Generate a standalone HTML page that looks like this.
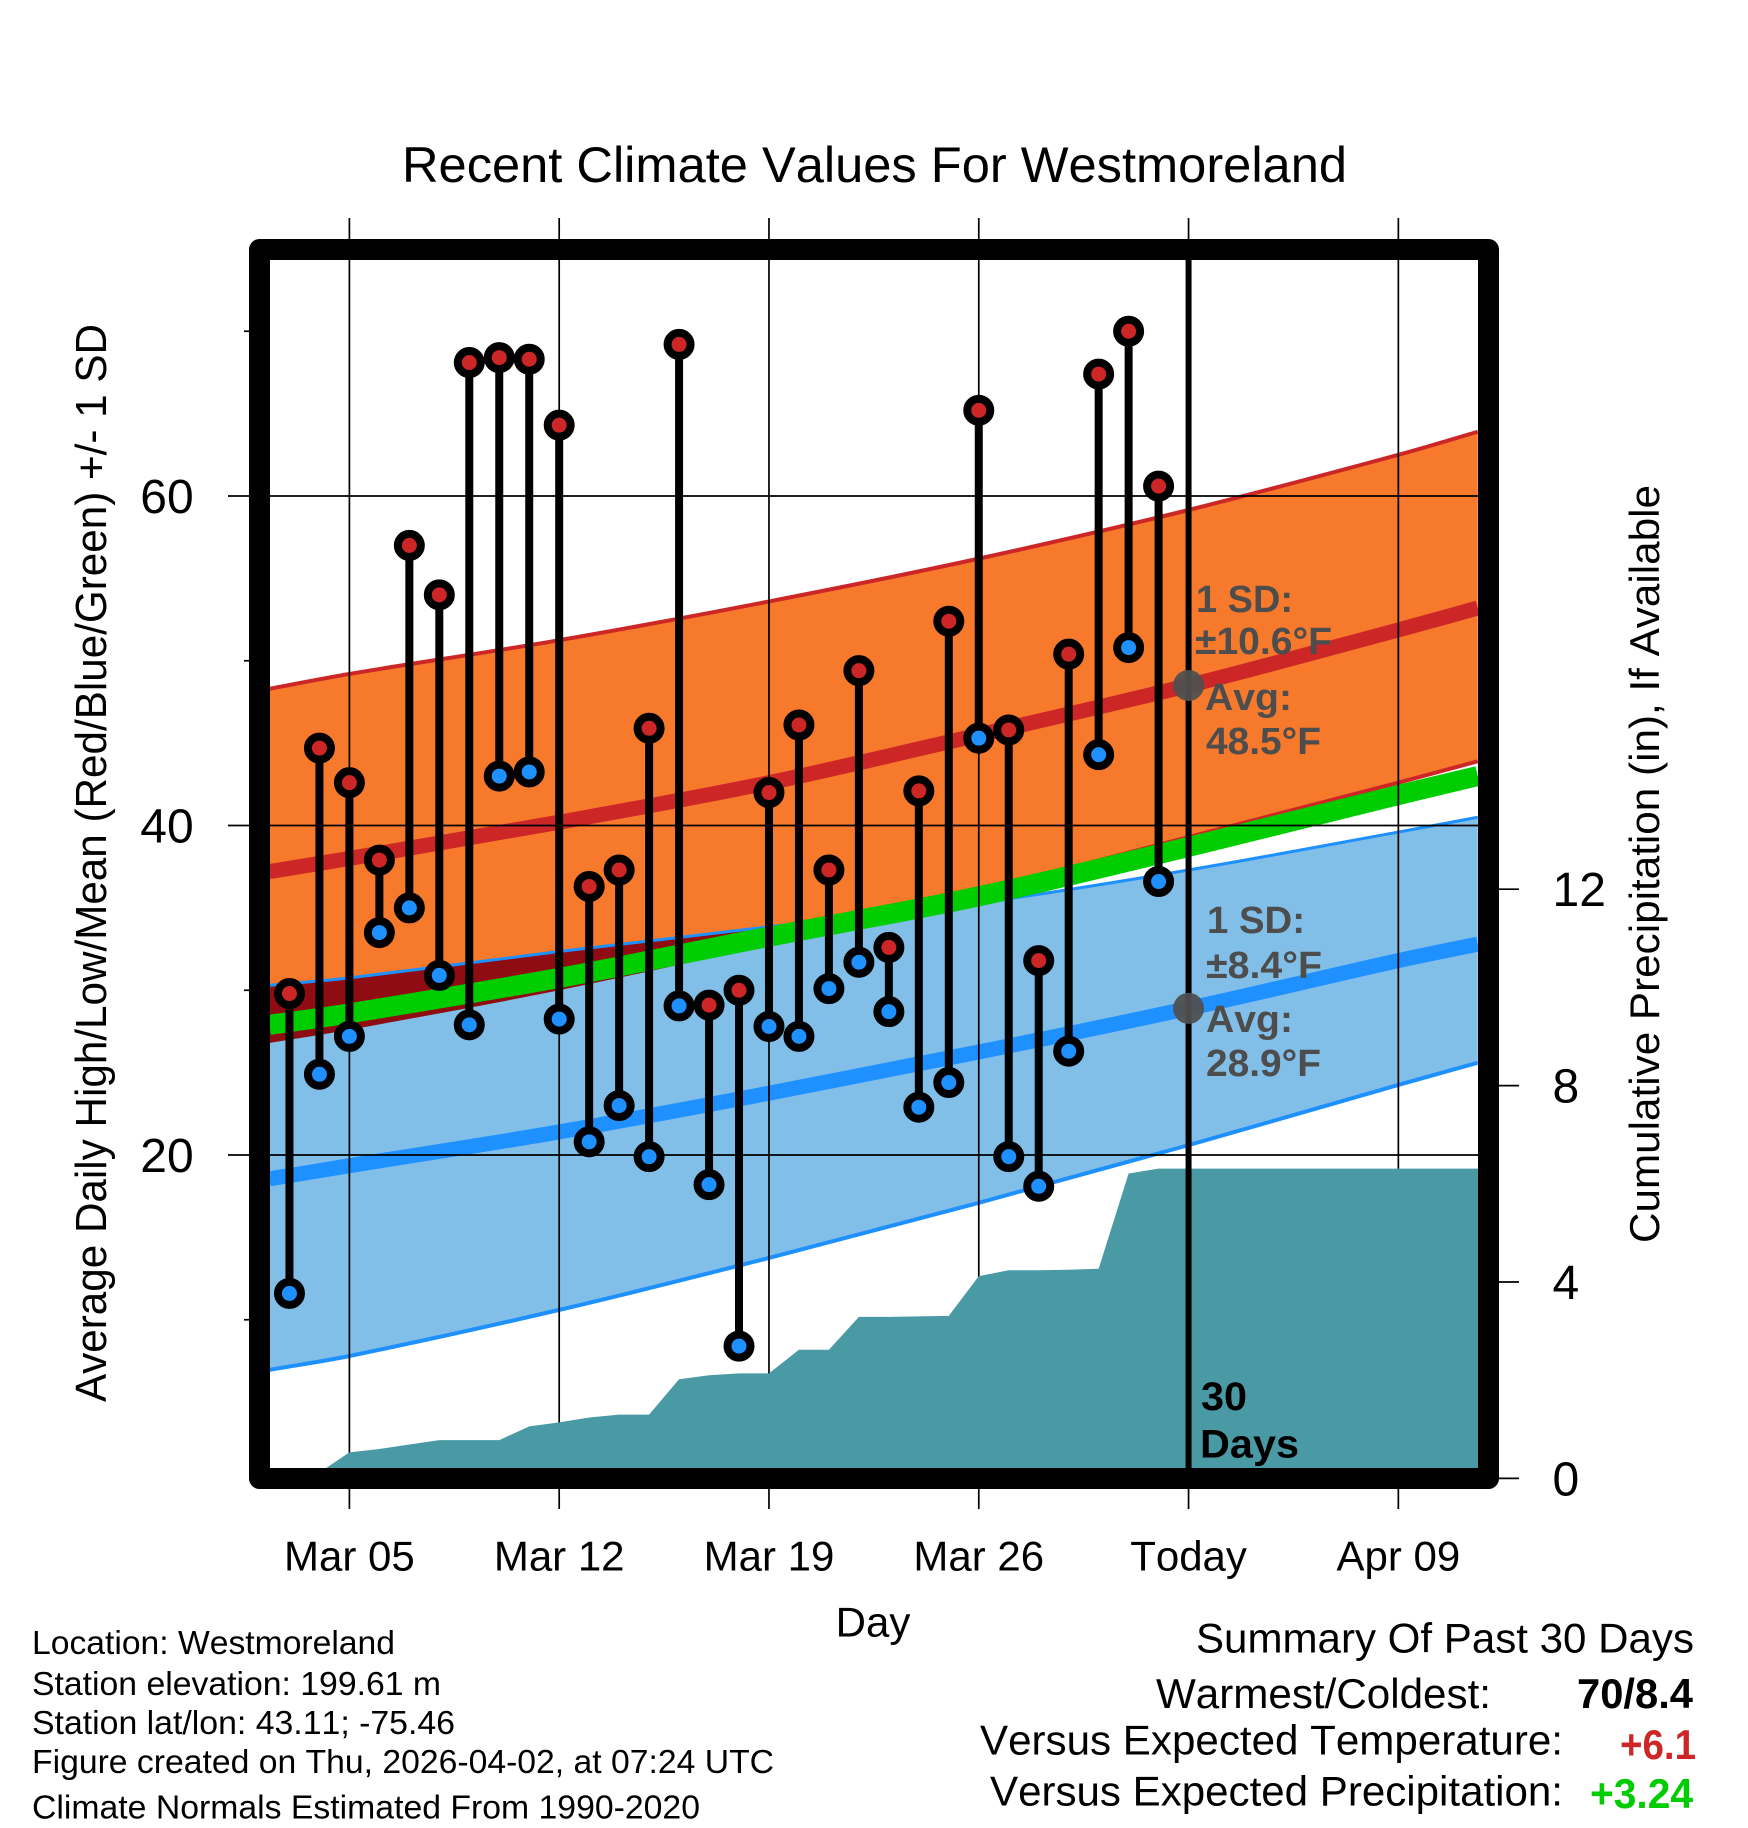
<!DOCTYPE html>
<html lang="en">
<head>
<meta charset="utf-8">
<title>Recent Climate Values For Westmoreland</title>
<style>
html,body{margin:0;padding:0;background:#fff;}
#chart{display:block;width:1748px;height:1828px;}
text{font-family:"Liberation Sans",Arial,Helvetica,sans-serif;fill:#000;font-kerning:none;}
.note{fill:#4d4d4d;font-weight:bold;font-size:38px;}
</style>
</head>
<body>
<svg id="chart" xmlns="http://www.w3.org/2000/svg" width="1748" height="1828" viewBox="0 0 1748 1828">
  <defs>
    <clipPath id="plot-clip"><rect x="270" y="260" width="1208" height="1208"/></clipPath>
    <clipPath id="orange-clip"><path id="orange-clip-path" d=""/></clipPath>
  </defs>
  <rect x="0" y="0" width="1748" height="1828" fill="#fff"/>
  <g id="plot-layer" clip-path="url(#plot-clip)"></g>
  <g id="axis-layer"></g>
  <g id="grid-layer"></g>
  <g id="upper-layer" clip-path="url(#plot-clip)"></g>
  <rect x="259.5" y="249.5" width="1229" height="1229" fill="none" stroke="#000" stroke-width="21" stroke-linejoin="round"/>

  <text x="402" y="182" font-size="50" textLength="945" lengthAdjust="spacingAndGlyphs">Recent Climate Values For Westmoreland</text>
  <text transform="translate(106,1402) rotate(-90)" font-size="44" textLength="1078" lengthAdjust="spacingAndGlyphs">Average Daily High/Low/Mean (Red/Blue/Green) +/- 1 SD</text>
  <text transform="translate(1659,1243) rotate(-90)" font-size="42" textLength="758" lengthAdjust="spacingAndGlyphs">Cumulative Precipitation (in), If Available</text>
  <text x="873" y="1636.5" font-size="42" text-anchor="middle">Day</text>

  <text class="note" x="1196" y="612" textLength="97" lengthAdjust="spacingAndGlyphs">1 SD:</text>
  <text class="note" x="1195" y="654" textLength="137" lengthAdjust="spacingAndGlyphs">±10.6°F</text>
  <text class="note" x="1205" y="710" textLength="87" lengthAdjust="spacingAndGlyphs">Avg:</text>
  <text class="note" x="1206" y="754" textLength="115" lengthAdjust="spacingAndGlyphs">48.5°F</text>
  <text class="note" x="1207" y="933" textLength="98" lengthAdjust="spacingAndGlyphs">1 SD:</text>
  <text class="note" x="1206" y="978" textLength="116" lengthAdjust="spacingAndGlyphs">±8.4°F</text>
  <text class="note" x="1206" y="1032" textLength="87" lengthAdjust="spacingAndGlyphs">Avg:</text>
  <text class="note" x="1206" y="1076" textLength="115" lengthAdjust="spacingAndGlyphs">28.9°F</text>

  <text x="1201" y="1410" font-size="40" font-weight="bold" textLength="46" lengthAdjust="spacingAndGlyphs">30</text>
  <text x="1200" y="1457.5" font-size="40" font-weight="bold" textLength="99" lengthAdjust="spacingAndGlyphs">Days</text>

  <text x="32" y="1654" font-size="33" textLength="363" lengthAdjust="spacingAndGlyphs">Location: Westmoreland</text>
  <text x="32" y="1695" font-size="33" textLength="409" lengthAdjust="spacingAndGlyphs">Station elevation: 199.61 m</text>
  <text x="32" y="1734" font-size="33" textLength="423" lengthAdjust="spacingAndGlyphs">Station lat/lon: 43.11; -75.46</text>
  <text x="32" y="1773" font-size="33" textLength="742" lengthAdjust="spacingAndGlyphs">Figure created on Thu, 2026-04-02, at 07:24 UTC</text>
  <text x="32" y="1818.5" font-size="33" textLength="668" lengthAdjust="spacingAndGlyphs">Climate Normals Estimated From 1990-2020</text>

  <text x="1196" y="1652.5" font-size="42" textLength="498" lengthAdjust="spacingAndGlyphs">Summary Of Past 30 Days</text>
  <text x="1156" y="1708" font-size="42" textLength="335" lengthAdjust="spacingAndGlyphs">Warmest/Coldest:</text>
  <text x="1577" y="1708" font-size="42" font-weight="bold" textLength="116" lengthAdjust="spacingAndGlyphs">70/8.4</text>
  <text x="980" y="1754.5" font-size="42" textLength="583" lengthAdjust="spacingAndGlyphs">Versus Expected Temperature:</text>
  <text x="1620" y="1759" font-size="42" font-weight="bold" style="fill:#cd2626" textLength="76" lengthAdjust="spacingAndGlyphs">+6.1</text>
  <text x="990" y="1805.5" font-size="42" textLength="573" lengthAdjust="spacingAndGlyphs">Versus Expected Precipitation:</text>
  <text x="1590" y="1808" font-size="42" font-weight="bold" style="fill:#00cd00" textLength="103" lengthAdjust="spacingAndGlyphs">+3.24</text>
</svg>

<script>
// ---- chart data (degrees F, inches, days) ----
const highs = [29.8,44.7,42.6,37.9,57.0,54.0,68.1,68.4,68.3,64.3,36.3,37.3,45.9,69.2,29.1,30.0,42.0,46.1,37.3,49.4,32.6,42.1,52.4,65.2,45.8,31.8,50.4,67.4,70.0,60.6];
const lows = [11.6,24.9,27.2,33.5,35.0,30.9,27.9,43.0,43.25,28.25,20.8,23.0,19.9,29.05,18.2,8.4,27.8,27.2,30.1,31.7,28.7,22.9,24.4,45.3,19.9,18.1,26.3,44.3,50.8,36.6];
const precip = [0,0.12,0.53,0.6,0.69,0.78,0.78,0.78,1.06,1.14,1.24,1.3,1.3,2.02,2.1,2.14,2.14,2.62,2.62,3.29,3.29,3.3,3.31,4.12,4.24,4.24,4.25,4.27,6.21,6.31];
const precipFuture = [6.31,6.31];
const climateDays = [-2.67,0,7,14,21,28,35,37.65];
const highUpper = [48.3,49.2,51.25,53.6,56.2,59.15,62.5,63.9];
const highMean = [37.2,38.0,40.2,42.6,45.5,48.5,51.87,53.2];
const highLower = [26.8,27.6,30.0,32.8,36.0,39.3,42.6,43.9];
const lowUpper = [30.3,30.75,32.35,33.85,35.3,37.3,39.6,40.5];
const lowMean = [18.55,19.35,21.4,23.75,26.25,28.9,31.8,32.8];
const lowLower = [6.96,7.8,10.6,13.75,17.1,20.6,24.25,25.6];
const overallMean = [27.9,28.6,30.75,33.25,35.7,38.7,41.85,43.0];
const xTickDays = [0,7,14,21,28,35];
const xTickLabels = ["Mar 05","Mar 12","Mar 19","Mar 26","Today","Apr 09"];
const yTickValues = [60,40,20];
const yMinorValues = [70,50,30,10];
const precipTicks = [0,4,8,12];
const todayDay = 28;
const todayHigh = 48.5;
const todayLow = 28.9;
const firstObsDay = -2;

// ---- axis functions ----
function xAxis(day){ return 349.4 + 29.97 * day; }
function yAxis(temp){ return 496 + (60 - temp) * 16.475; }
function pAxis(inches){ return 1478.4 - 49.1 * inches; }

const NS = 'http://www.w3.org/2000/svg';
const plotLayer = document.getElementById('plot-layer');
const axisLayer = document.getElementById('axis-layer');
const gridLayer = document.getElementById('grid-layer');
const upperLayer = document.getElementById('upper-layer');

function make(tag, parent, attrs){
  const el = document.createElementNS(NS, tag);
  for (const k in attrs) el.setAttribute(k, attrs[k]);
  parent.appendChild(el);
  return el;
}
function climatePoints(vals){
  return vals.map(function(v, i){ return [xAxis(climateDays[i]), yAxis(v)]; });
}
function curveThrough(pts, start){
  let d = (start ? 'M' : 'L') + pts[0][0].toFixed(2) + ' ' + pts[0][1].toFixed(2);
  for (let i = 0; i < pts.length - 1; i++){
    const p0 = pts[Math.max(i - 1, 0)], p1 = pts[i], p2 = pts[i + 1], p3 = pts[Math.min(i + 2, pts.length - 1)];
    const h = (p2[0] - p1[0]) / 3;
    const m1 = (p2[1] - p0[1]) / (p2[0] - p0[0]);
    const m2 = (p3[1] - p1[1]) / (p3[0] - p1[0]);
    d += 'C' + (p1[0] + h).toFixed(2) + ' ' + (p1[1] + m1 * h).toFixed(2) + ' ' +
         (p2[0] - h).toFixed(2) + ' ' + (p2[1] - m2 * h).toFixed(2) + ' ' +
         p2[0].toFixed(2) + ' ' + p2[1].toFixed(2);
  }
  return d;
}
function bandPath(upper, lower){
  const top = climatePoints(upper);
  const bottom = climatePoints(lower).reverse();
  return curveThrough(top, true) + curveThrough(bottom, false) + 'Z';
}

// ---- bands ----
const orangeD = bandPath(highUpper, highLower);
const blueD = bandPath(lowUpper, lowLower);
document.getElementById('orange-clip-path').setAttribute('d', orangeD);

const orangeBand = make('path', plotLayer, {d: orangeD, fill: '#f7792c'});



const orangeTop = make('path', plotLayer, {d: curveThrough(climatePoints(highUpper), true), fill: 'none', stroke: '#cd2626', 'stroke-width': 4});



const orangeBottom = make('path', plotLayer, {d: curveThrough(climatePoints(highLower), true), fill: 'none', stroke: '#cd2626', 'stroke-width': 4});



const blueBand = make('path', plotLayer, {d: blueD, fill: '#82bfe8'});



const overlapWrap = make('g', plotLayer, {'clip-path': 'url(#orange-clip)'});
const overlap = make('path', overlapWrap, {d: blueD, fill: '#8e0c12'});



const blueTop = make('path', plotLayer, {d: curveThrough(climatePoints(lowUpper), true), fill: 'none', stroke: '#1e90ff', 'stroke-width': 3});



const blueBottom = make('path', plotLayer, {d: curveThrough(climatePoints(lowLower), true), fill: 'none', stroke: '#1e90ff', 'stroke-width': 4});



const lowLine = make('path', plotLayer, {d: curveThrough(climatePoints(lowMean), true), fill: 'none', stroke: '#1e90ff', 'stroke-width': 15});



const highLine = make('path', plotLayer, {d: curveThrough(climatePoints(highMean), true), fill: 'none', stroke: '#cd2626', 'stroke-width': 15});



const meanLine = make('path', plotLayer, {d: curveThrough(climatePoints(overallMean), true), fill: 'none', stroke: '#00cd00', 'stroke-width': 20});



// ---- grid and axes ----
xTickDays.forEach(function(day, i){
  const line = make('line', gridLayer, {x1: xAxis(day), x2: xAxis(day), y1: 218, y2: 1509, stroke: '#000', 'stroke-width': 1.7});
  
  
  const label = make('text', axisLayer, {x: xAxis(day), y: 1570.5, 'font-size': 42, 'text-anchor': 'middle'});
  label.textContent = xTickLabels[i];
  
  
});
yTickValues.forEach(function(v){
  const line = make('line', gridLayer, {x1: 228, x2: 1480, y1: yAxis(v), y2: yAxis(v), stroke: '#000', 'stroke-width': 1.7});
  
  
  const label = make('text', axisLayer, {x: 167, y: yAxis(v) + 17, 'font-size': 48, 'text-anchor': 'middle'});
  label.textContent = String(v);
  
  
});
yMinorValues.forEach(function(v){
  const tick = make('line', axisLayer, {x1: 244, x2: 250, y1: yAxis(v), y2: yAxis(v), stroke: '#000', 'stroke-width': 1.7});
  
  
});
precipTicks.forEach(function(p){
  const tick = make('line', axisLayer, {x1: 1498, x2: 1519, y1: pAxis(p), y2: pAxis(p), stroke: '#000', 'stroke-width': 1.7});
  
  
  const label = make('text', axisLayer, {x: 1552.5, y: pAxis(p) + 17, 'font-size': 48});
  label.textContent = String(p);
  
  
});

// ---- precipitation area ----
let precipD = 'M' + xAxis(firstObsDay).toFixed(2) + ' ' + pAxis(0).toFixed(2);
precip.forEach(function(p, i){
  precipD += 'L' + xAxis(firstObsDay + i).toFixed(2) + ' ' + pAxis(p).toFixed(2);
});
precipFuture.forEach(function(p, i){
  const day = i === 0 ? todayDay : climateDays[climateDays.length - 1] + 1;
  precipD += 'L' + xAxis(day).toFixed(2) + ' ' + pAxis(p).toFixed(2);
});
precipD += 'L' + xAxis(climateDays[climateDays.length - 1] + 1).toFixed(2) + ' ' + pAxis(0).toFixed(2) + 'Z';
const precipArea = make('path', upperLayer, {d: precipD, fill: '#4a9aa5'});



// ---- today marker ----
const todayLine = make('line', upperLayer, {x1: xAxis(todayDay), x2: xAxis(todayDay), y1: 255, y2: 1475, stroke: '#000', 'stroke-width': 6});



// ---- daily high/low stems and points ----
highs.forEach(function(h, i){
  const x = xAxis(firstObsDay + i);
  const stem = make('line', upperLayer, {x1: x, x2: x, y1: yAxis(h), y2: yAxis(lows[i]), stroke: '#000', 'stroke-width': 8});
  
  
  const hiDot = make('circle', upperLayer, {cx: x, cy: yAxis(h), r: 11.5, fill: '#cd2626', stroke: '#000', 'stroke-width': 8});
  
  
  const loDot = make('circle', upperLayer, {cx: x, cy: yAxis(lows[i]), r: 11.5, fill: '#1e90ff', stroke: '#000', 'stroke-width': 8});
  
  
});

const todayHighDot = make('circle', upperLayer, {cx: xAxis(todayDay), cy: yAxis(todayHigh), r: 15.5, fill: '#505050', 'fill-opacity': 0.94});


const todayLowDot = make('circle', upperLayer, {cx: xAxis(todayDay), cy: yAxis(todayLow), r: 15.5, fill: '#505050', 'fill-opacity': 0.94});


</script>
</body>
</html>
